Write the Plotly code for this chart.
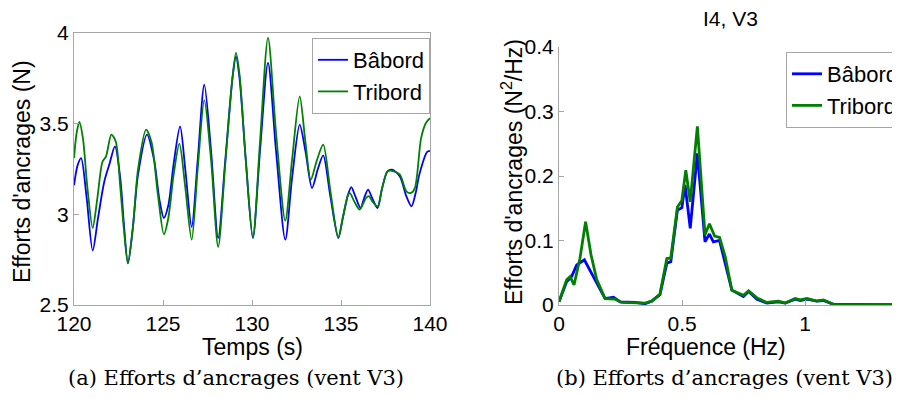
import plotly.graph_objs as go

# time series (s) and anchor forces (N)
t_babord = [120.0, 120.2, 120.4, 120.7, 121.05, 121.35, 121.7, 122.0, 122.3, 122.6,
            122.8, 123.03, 123.3, 123.6, 124.1, 124.5, 124.8, 125.05, 125.3, 125.6,
            125.96, 126.25, 126.61, 126.95, 127.32, 127.7, 128.1, 128.5, 128.9, 129.1,
            129.3, 129.65, 130.05, 130.45, 130.9, 131.35, 131.87, 132.25, 132.68, 133.0,
            133.37, 133.7, 134.0, 134.4, 134.85, 135.1, 135.4, 135.58, 135.8, 136.1,
            136.3, 136.52, 136.75, 137.05, 137.3, 137.61, 137.87, 138.3, 138.67, 138.96,
            139.2, 139.4, 139.84, 140.0]
f_babord = [3.16, 3.27, 3.31, 3.10, 2.80, 2.98, 3.18, 3.28, 3.375, 3.20,
            2.95, 2.73, 2.92, 3.22, 3.44, 3.30, 3.08, 2.98, 3.05, 3.28,
            3.485, 3.25, 2.93, 3.30, 3.715, 3.35, 2.87, 3.30, 3.75, 3.87,
            3.75, 3.30, 2.87, 3.35, 3.835, 3.35, 2.86, 3.20, 3.495, 3.35,
            3.145, 3.25, 3.325, 3.10, 2.87, 2.98, 3.11, 3.15, 3.10, 3.035,
            3.09, 3.136, 3.09, 3.035, 3.14, 3.237, 3.246, 3.21, 3.10, 3.044,
            3.12, 3.219, 3.344, 3.35]

t_tribord = [120.0, 120.15, 120.3, 120.5, 120.75, 121.05, 121.3, 121.6, 121.8, 122.1,
             122.35, 122.6, 122.8, 123.03, 123.3, 123.6, 124.05, 124.35, 124.7, 125.05,
             125.3, 125.6, 125.92, 126.25, 126.61, 126.95, 127.32, 127.7, 128.1, 128.5,
             128.9, 129.1, 129.3, 129.65, 130.05, 130.45, 130.9, 131.35, 131.87, 132.25,
             132.68, 133.0, 133.3, 133.65, 134.0, 134.4, 134.85, 135.1, 135.4, 135.5,
             135.75, 136.05, 136.4, 136.57, 136.77, 137.06, 137.3, 137.61, 137.87, 138.3,
             138.67, 138.93, 139.15, 139.5, 139.77, 140.0]
f_tribord = [3.31, 3.45, 3.51, 3.42, 3.15, 2.925, 3.08, 3.29, 3.32, 3.44,
             3.40, 3.15, 2.92, 2.73, 2.92, 3.25, 3.467, 3.40, 3.12, 2.89,
             2.98, 3.22, 3.39, 3.15, 2.86, 3.25, 3.63, 3.30, 2.82, 3.28,
             3.75, 3.89, 3.77, 3.30, 2.87, 3.40, 3.973, 3.45, 2.965, 3.30,
             3.65, 3.40, 3.19, 3.30, 3.384, 3.13, 2.87, 2.98, 3.108, 3.117,
             3.07, 3.026, 3.09, 3.10, 3.07, 3.044, 3.14, 3.237, 3.24, 3.22,
             3.127, 3.118, 3.145, 3.42, 3.504, 3.53]

# spectra (Hz) and PSD (N^2/Hz)
fq_babord = [0.0, 0.031, 0.051, 0.072, 0.103, 0.126, 0.153, 0.187, 0.221, 0.248,
             0.309, 0.35, 0.377, 0.41, 0.438, 0.454, 0.481, 0.499, 0.512, 0.533,
             0.562, 0.593, 0.611, 0.627, 0.652, 0.675, 0.702, 0.749, 0.770, 0.804,
             0.844, 0.891, 0.919, 0.959, 0.98, 1.007, 1.047, 1.074, 1.115, 1.2, 1.3, 1.4]
psd_babord = [0.005, 0.036, 0.044, 0.062, 0.070, 0.054, 0.034, 0.010, 0.012, 0.005,
              0.004, 0.002, 0.006, 0.016, 0.065, 0.067, 0.147, 0.151, 0.186, 0.119,
              0.235, 0.098, 0.110, 0.098, 0.100, 0.065, 0.023, 0.013, 0.021, 0.009,
              0.003, 0.005, 0.003, 0.009, 0.007, 0.009, 0.006, 0.007, 0.001, 0.0008, 0.0005, 0.0005]

fq_tribord = [0.0, 0.031, 0.045, 0.061, 0.085, 0.108, 0.130, 0.153, 0.187, 0.228,
              0.255, 0.309, 0.35, 0.377, 0.41, 0.438, 0.454, 0.481, 0.499, 0.515,
              0.533, 0.562, 0.593, 0.611, 0.632, 0.652, 0.675, 0.702, 0.749, 0.770,
              0.804, 0.844, 0.891, 0.919, 0.959, 0.98, 1.007, 1.047, 1.074, 1.115, 1.2, 1.3, 1.4]
psd_tribord = [0.005, 0.039, 0.044, 0.031, 0.072, 0.129, 0.078, 0.040, 0.010, 0.009,
               0.004, 0.004, 0.003, 0.006, 0.017, 0.072, 0.073, 0.152, 0.162, 0.209,
               0.160, 0.277, 0.109, 0.126, 0.107, 0.105, 0.075, 0.023, 0.015, 0.022,
               0.011, 0.004, 0.006, 0.003, 0.010, 0.008, 0.010, 0.006, 0.008, 0.001, 0.0008, 0.0005, 0.0005]

BLUE = '#0000ff'
GREEN = '#008000'
AX = '#a6a6a6'
SANS = 'Liberation Sans, Arial, sans-serif'
SERIF = 'DejaVu Serif, Liberation Serif, serif'

# the page body keeps its default 8px margin, so the figure is sized to fill
# the rest of the 900x398 window; layout is worked out in window pixels
OFF = 8
W, H = 900 - OFF, 398 - OFF


def px(x):
    return (x - OFF) / W


def py(y):
    return 1 - (y - OFF) / H


data = [
    go.Scatter(x=t_babord, y=f_babord, mode='lines', name='Bâbord',
               line=dict(color=BLUE, width=1.8, shape='spline', smoothing=0.8),
               xaxis='x', yaxis='y', legend='legend'),
    go.Scatter(x=t_tribord, y=f_tribord, mode='lines', name='Tribord',
               line=dict(color=GREEN, width=1.8, shape='spline', smoothing=0.8),
               xaxis='x', yaxis='y', legend='legend'),
    go.Scatter(x=fq_babord, y=psd_babord, mode='lines', name='Bâbord',
               line=dict(color=BLUE, width=2.8),
               xaxis='x2', yaxis='y2', legend='legend2'),
    go.Scatter(x=fq_tribord, y=psd_tribord, mode='lines', name='Tribord',
               line=dict(color=GREEN, width=2.8),
               xaxis='x2', yaxis='y2', legend='legend2'),
]

axis_common = dict(showgrid=False, zeroline=False, showline=True, linecolor=AX,
                   linewidth=1, ticks='inside', ticklen=5, tickcolor=AX,
                   automargin=False,
                   tickfont=dict(family=SANS, size=21, color='black'))

# texts placed in window pixels (x from left, y from top)
texts = [
    ('Temps (s)', 252, 347, 0, SANS, 23),
    ('Fréquence (Hz)', 706, 347, 0, SANS, 23),
    ("Efforts d'ancrages (N)", 22, 172, -90, SANS, 23),
    ("Efforts d'ancrages (N<sup>2</sup>/Hz)", 512, 172, -90, SANS, 23),
    ('I4, V3', 730, 18, 0, SANS, 21),
    ('(a) Efforts d’ancrages (vent V3)', 236, 378, 0, SERIF, 21),
    ('(b) Efforts d’ancrages (vent V3)', 724, 378, 0, SERIF, 21),
]
annotations = [dict(text=s, x=px(x), y=py(y), xref='paper', yref='paper',
                    xanchor='center', yanchor='middle', textangle=ang, showarrow=False,
                    font=dict(family=fam, size=sz, color='black'))
               for s, x, y, ang, fam, sz in texts]

layout = go.Layout(
    width=W, height=H,
    margin=dict(l=0, r=0, t=0, b=0, autoexpand=False),
    plot_bgcolor='white', paper_bgcolor='white',
    showlegend=True,
    xaxis=dict(axis_common, domain=[px(74), px(430)], range=[120, 140],
               tickvals=[120, 125, 130, 135, 140], mirror=True, anchor='y'),
    yaxis=dict(axis_common, domain=[py(305), py(33)], range=[2.5, 4],
               tickvals=[2.5, 3, 3.5, 4], ticktext=['2.5', '3', '3.5', '4'],
               mirror=True, anchor='x'),
    xaxis2=dict(axis_common, domain=[px(559), 1.0], range=[0, 1.385],
                tickvals=[0, 0.5, 1], ticktext=['0', '0.5', '1'], anchor='y2'),
    yaxis2=dict(axis_common, domain=[py(305), py(47)], range=[0, 0.4],
                tickvals=[0, 0.1, 0.2, 0.3, 0.4],
                ticktext=['0', '0.1', '0.2', '0.3', '0.4'], anchor='x2'),
    legend=dict(x=px(312), y=py(38), xanchor='left', yanchor='top',
                bordercolor=AX, borderwidth=1, bgcolor='white',
                font=dict(family=SANS, size=22, color='black'),
                itemwidth=30, tracegroupgap=0),
    legend2=dict(x=px(786), y=py(52), xanchor='left', yanchor='top',
                 bordercolor=AX, borderwidth=1, bgcolor='white',
                 font=dict(family=SANS, size=22, color='black'),
                 itemwidth=30, tracegroupgap=0),
    annotations=annotations,
)

fig = go.Figure(data=data, layout=layout)
fig.write_html('out.html')
